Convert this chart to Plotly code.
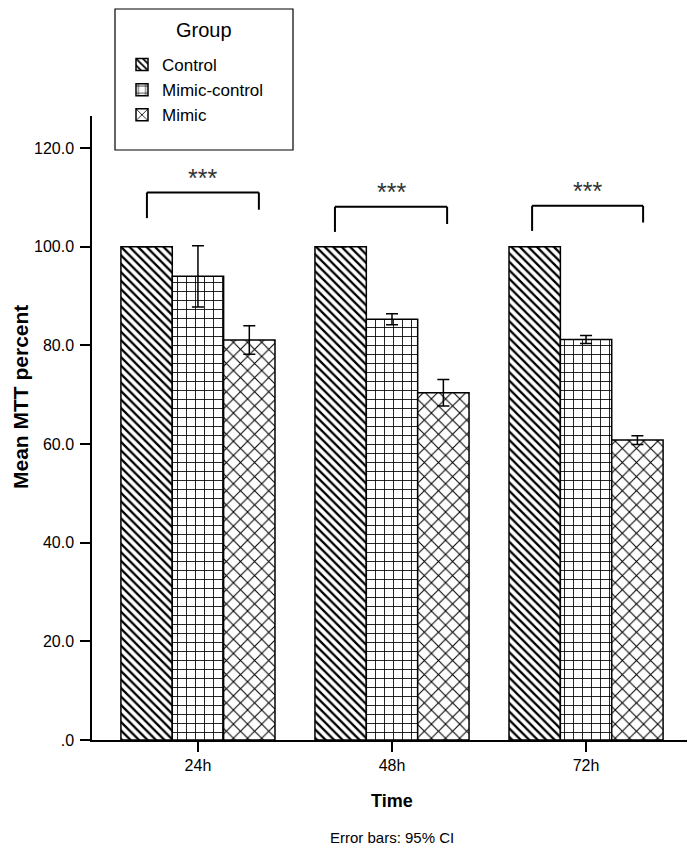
import plotly.graph_objects as go

# ---- data ----
categories = ["24h", "48h", "72h"]
groups = ["Control", "Mimic-control", "Mimic"]
means = {
    "Control": [100.0, 100.0, 100.0],
    "Mimic-control": [94.0, 85.3, 81.2],
    "Mimic": [81.1, 70.4, 60.8],
}
ci_half = {
    "Control": [0.0, 0.0, 0.0],
    "Mimic-control": [6.2, 1.1, 0.8],
    "Mimic": [2.9, 2.7, 0.9],
}
y_tickvals = [0, 20, 40, 60, 80, 100, 120]
y_ticktext = [".0", "20.0", "40.0", "60.0", "80.0", "100.0", "120.0"]
significance = ["***", "***", "***"]

patterns = {
    "Control": dict(shape="\\", size=6, solidity=0.38),
    "Mimic-control": dict(shape="+", size=9, solidity=0.18),
    "Mimic": dict(shape="x", size=10, solidity=0.2),
}

FONT = "Arial, Liberation Sans, sans-serif"

# The page body has an 8px default margin, so the figure sits at (8, 8) in the window.
# Plot area in window pixels: x 92..692, y 116..740.
PL, PT, PW, PH = 92, 116, 600, 624


def px(xw):
    return (xw - PL) / PW


def py(yw):
    return (PT + PH - yw) / PH


fig = go.Figure()
for g in groups:
    p = patterns[g]
    fig.add_trace(go.Bar(
        name=g, x=categories, y=means[g],
        marker=dict(color="white", line=dict(color="black", width=1.5),
                    pattern=dict(shape=p["shape"], size=p["size"], solidity=p["solidity"],
                                 fgcolor="black", bgcolor="white", fillmode="replace")),
        error_y=dict(type="data", array=ci_half[g], visible=True, color="black",
                     thickness=1.5, width=6),
    ))

# significance brackets
br_left = [-0.263, 0.706, 1.722]
br_right = [0.314, 1.284, 2.294]
br_top = [111.0, 108.1, 108.3]
br_lleg = [105.8, 103.0, 103.2]
br_rleg = [107.5, 104.6, 104.9]
for i in range(3):
    for (x0, y0, x1, y1) in [
        (br_left[i], br_lleg[i], br_left[i], br_top[i]),
        (br_left[i], br_top[i], br_right[i], br_top[i]),
        (br_right[i], br_top[i], br_right[i], br_rleg[i]),
    ]:
        fig.add_shape(type="line", xref="x", yref="y", x0=x0, y0=y0, x1=x1, y1=y1,
                      line=dict(color="black", width=2))
    fig.add_annotation(x=(br_left[i] + br_right[i]) / 2, y=br_top[i] + 3.0, xref="x", yref="y",
                       xanchor="center", yanchor="middle",
                       text=significance[i], showarrow=False,
                       font=dict(family=FONT, size=25, color="#333"))

# small end tick at the right end of the x axis
fig.add_shape(type="line", xref="paper", yref="y", x0=1, x1=1, y0=0, y1=1.2,
              line=dict(color="black", width=1.5))

# legend frame
fig.add_shape(type="rect", xref="paper", yref="paper",
              x0=px(115), x1=px(293), y0=py(150), y1=py(9),
              line=dict(color="black", width=1.2), fillcolor="white", layer="below")
fig.add_annotation(xref="paper", yref="paper", x=px(204), y=py(30),
                   xanchor="center", yanchor="middle",
                   text="Group", showarrow=False, font=dict(family=FONT, size=20, color="black"))

# axis titles and note
fig.add_annotation(xref="paper", yref="paper", x=px(20), y=py(397),
                   xanchor="center", yanchor="middle",
                   text="<b>Mean MTT percent</b>", textangle=-90, showarrow=False,
                   font=dict(family=FONT, size=21, color="black"))
fig.add_annotation(xref="paper", yref="paper", x=px(392), y=py(801),
                   xanchor="center", yanchor="middle",
                   text="<b>Time</b>", showarrow=False,
                   font=dict(family=FONT, size=18, color="black"))
fig.add_annotation(xref="paper", yref="paper", x=px(392), y=py(838),
                   xanchor="center", yanchor="middle",
                   text="Error bars: 95% CI", showarrow=False,
                   font=dict(family=FONT, size=15, color="black"))

W, H = 687, 841
fig.update_layout(
    width=W, height=H,
    margin=dict(l=PL - 8, r=W - (PL - 8 + PW), t=PT - 8, b=H - (PT - 8 + PH), autoexpand=False),
    paper_bgcolor="white", plot_bgcolor="white",
    barmode="group", bargap=0.206, bargroupgap=0,
    font=dict(family=FONT, size=16, color="black"),
    showlegend=True,
    legend=dict(x=px(122), y=py(47), xanchor="left", yanchor="top",
                bgcolor="rgba(0,0,0,0)", borderwidth=0,
                font=dict(family=FONT, size=17, color="black"),
                itemwidth=30, tracegroupgap=0),
    xaxis=dict(range=[-0.546, 2.546], showline=True, linecolor="black", linewidth=1.5,
               ticks="outside", ticklen=10, tickwidth=1.5, tickcolor="black",
               showgrid=False, zeroline=False, tickfont=dict(size=16)),
    yaxis=dict(range=[0, 126.5], showline=True, linecolor="black", linewidth=1.5,
               ticks="outside", ticklen=10, tickwidth=1.5, tickcolor="black",
               tickvals=y_tickvals, ticktext=y_ticktext, ticklabelstandoff=3,
               showgrid=False, zeroline=False, tickfont=dict(size=16)),
)

fig.write_html("out.html")
